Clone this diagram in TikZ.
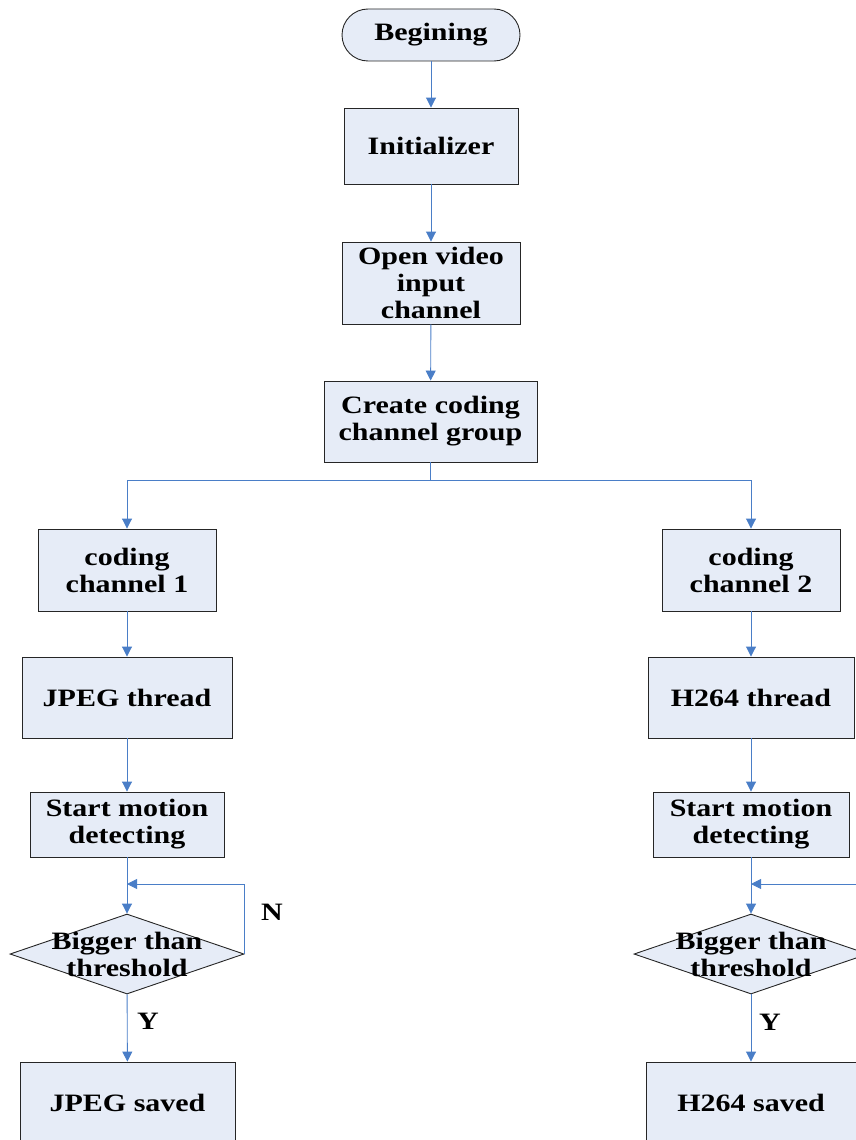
\documentclass[tikz,border=0pt]{standalone}
\usepackage{fontspec}
\setmainfont{Liberation Serif}[FakeStretch=1.2]
\usetikzlibrary{shapes.geometric,arrows.meta}
\definecolor{boxfill}{HTML}{E6ECF7}
\definecolor{linkblue}{HTML}{4A7EC7}
\begin{document}
\begin{tikzpicture}[x=1pt,y=-1pt,
	txt/.style={font=\bfseries\fontsize{25}{27}\selectfont,align=center,inner sep=0pt},
	box/.style={txt,draw=black!85,line width=0.9pt,fill=boxfill},
	startbox/.style={box,rounded corners=26pt,minimum width=178pt,minimum height=52pt},
	decision/.style={diamond,draw=black!85,line width=0.9pt,fill=boxfill,inner sep=0pt,minimum width=234pt,minimum height=80pt},
	arr/.style={draw=linkblue,line width=0.9pt,-{Triangle[width=10pt,length=10pt]}}]
	\useasboundingbox (0,0) rectangle (856,1140);
	\clip (0,0) rectangle (856,1140);
	% middle column
	\node[startbox] (begin) at (431,35) {Begining};
	\node[box,minimum width=174pt,minimum height=76pt] (init) at (431,146) {Initializer};
	\node[box,minimum width=178pt,minimum height=82pt] (open) at (431,283) {Open video\\input\\channel};
	\node[box,minimum width=213pt,minimum height=81pt] (group) at (430.5,421.5) {Create coding\\channel group};
	% left branch
	\node[box,minimum width=178pt,minimum height=82pt] (ch1) at (127,570) {coding\\channel 1};
	\node[box,minimum width=210pt,minimum height=81pt] (jpeg) at (127,697.5) {JPEG thread};
	\node[box,minimum width=194pt,minimum height=65pt] (mot1) at (127,824.5) {Start motion\\detecting};
	\node[decision] (dia1) at (127,954) {};
	\node[txt] (dia1txt) at (127,954) {Bigger than\\threshold};
	\node[box,minimum width=215pt,minimum height=82pt] (save1) at (127.5,1103) {JPEG saved};
	\coordinate (back1) at (127,884);
	\node[txt] (no1) at (272,912) {N};
	\node[txt] (yes1) at (148,1021) {Y};
	% right branch
	\node[box,minimum width=178pt,minimum height=82pt] (ch2) at (751,570) {coding\\channel 2};
	\node[box,minimum width=206pt,minimum height=81pt] (h264) at (751,697.5) {H264 thread};
	\node[box,minimum width=196pt,minimum height=65pt] (mot2) at (751,824.5) {Start motion\\detecting};
	\node[decision] (dia2) at (751,954) {};
	\node[txt] (dia2txt) at (751,954) {Bigger than\\threshold};
	\node[box,minimum width=210pt,minimum height=82pt] (save2) at (751,1103) {H264 saved};
	\coordinate (back2) at (751,884);
	\node[txt] (yes2) at (770,1022) {Y};
	% connectors
	\draw[arr] (begin) -- (init);
	\draw[arr] (init) -- (open);
	\draw[arr] (open) -- (group);
	\draw[arr] (group.south) -- ++(0,18) -| (ch1.north);
	\draw[arr] (group.south) -- ++(0,18) -| (ch2.north);
	\draw[arr] (ch1) -- (jpeg);
	\draw[arr] (jpeg) -- (mot1);
	\draw[arr] (mot1) -- (dia1);
	\draw[arr] (dia1) -- (save1);
	\draw[arr] (dia1.east) |- (back1);
	\draw[arr] (ch2) -- (h264);
	\draw[arr] (h264) -- (mot2);
	\draw[arr] (mot2) -- (dia2);
	\draw[arr] (dia2) -- (save2);
	\draw[arr] (dia2.east) |- (back2);
\end{tikzpicture}
\end{document}
